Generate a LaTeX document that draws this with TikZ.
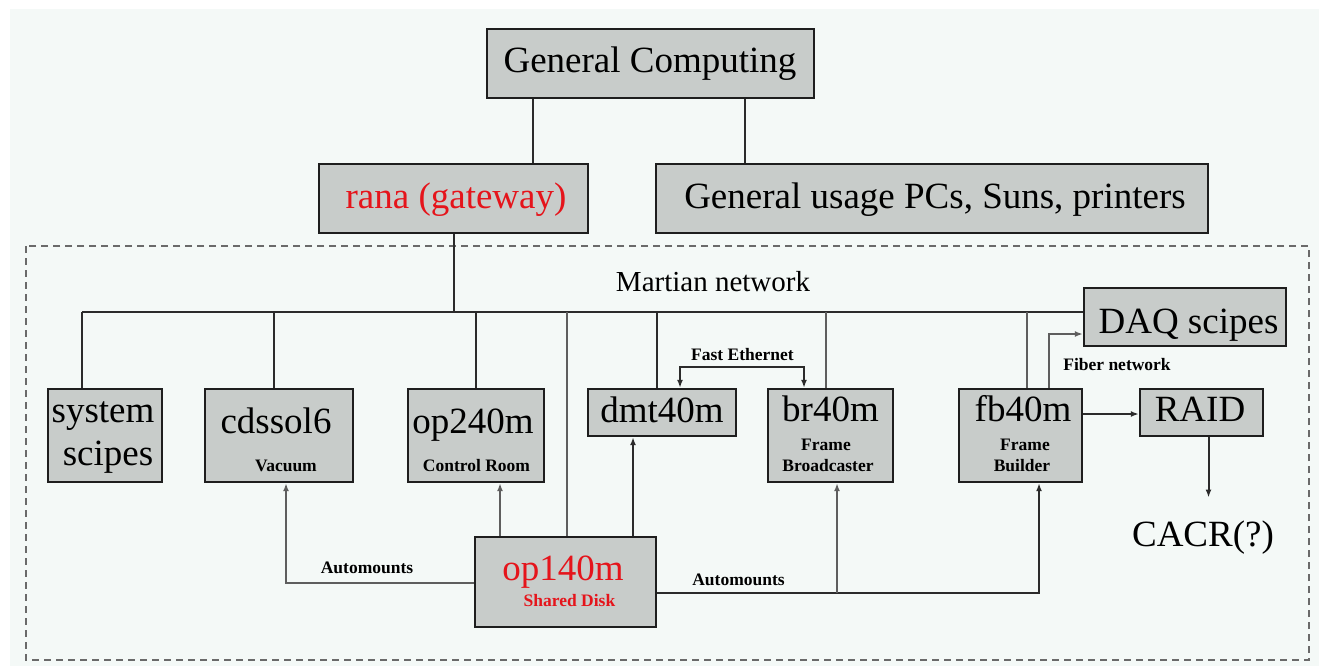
\documentclass[tikz,border=0pt]{standalone}
\usepackage{fontspec}
\setmainfont{Liberation Serif}
\usetikzlibrary{arrows.meta}
\definecolor{bgc}{HTML}{F4F9F7}
\definecolor{boxfill}{HTML}{C8CCCA}
\definecolor{boxline}{HTML}{1E1E1E}
\definecolor{busc}{HTML}{2B2B2B}
\definecolor{linkc}{HTML}{5E5E5E}
\definecolor{framec}{HTML}{6A6A6A}
\definecolor{redc}{HTML}{E5141B}
\begin{document}
\begin{tikzpicture}[x=1pt,y=-1pt,
  box/.style={draw=boxline,fill=boxfill,line width=2.4pt,inner sep=0pt},
  dims/.style 2 args={minimum width=#1pt,minimum height=#2pt},
  bigtxt/.style={font=\fontsize{37}{44}\selectfont,anchor=base,inner sep=0pt},
  smalltxt/.style={font=\bfseries\fontsize{17.5}{21}\selectfont,anchor=base,inner sep=0pt},
  midtxt/.style={font=\fontsize{29}{34}\selectfont,anchor=base,inner sep=0pt},
  bus/.style={draw=busc,line width=2pt},
  link/.style={draw=linkc,line width=2pt},
  arr/.style={-{Latex[length=8pt,width=6pt]}},
  arrs/.style={{Latex[length=8pt,width=6pt]}-{Latex[length=8pt,width=6pt]}},
  frame/.style={draw=framec,line width=2.4pt,dash pattern=on 7pt off 5pt},
]
\useasboundingbox (0,0) rectangle (1319,666);
\fill[white] (0,0) rectangle (1319,666);
\fill[bgc] (9.5,9.5) rectangle (1319,666);
\draw[frame] (26,246) rectangle (1309,660);

% boxes
\node[box,dims={327}{69}] (gc) at (650.5,63.5) {};
\node[box,dims={269}{69}] (rana) at (453.5,198.5) {};
\node[box,dims={552}{69}] (gu) at (932,198.5) {};
\node[box,dims={114}{93}] (sys) at (105,435.5) {};
\node[box,dims={148}{93}] (cds) at (279,435.5) {};
\node[box,dims={136}{93}] (op240) at (476,435.5) {};
\node[box,dims={148}{47}] (dmt) at (662,412.5) {};
\node[box,dims={125}{93}] (br) at (830.5,435.5) {};
\node[box,dims={123}{93}] (fb) at (1020.5,435.5) {};
\node[box,dims={123}{47}] (raid) at (1201.5,412.5) {};
\node[box,dims={202}{58}] (daq) at (1185,317) {};
\node[box,dims={181}{90}] (op140) at (565.5,582) {};
\node[bigtxt,anchor=center,inner ysep=21pt] (cacr) at (1203,535.5) {\phantom{CACR(?)}};

% upper links
\draw[bus] ([xshift=-117.5pt]gc.south) -- ([xshift=79.5pt]rana.north);
\draw[bus] ([xshift=94.5pt]gc.south) -- ([xshift=-187pt]gu.north);

% Martian bus
\coordinate (busL) at (82,312);
\coordinate (busR) at ([yshift=5pt]daq.west);
\draw[bus] (busL) -- (busR);
\draw[bus] (rana.south) -- (rana.south |- busL);
\draw[bus] (busL) -- (busL |- sys.north);
\draw[bus] ([xshift=-5pt]cds.north |- busL) -- ([xshift=-5pt]cds.north);
\draw[bus] (op240.north |- busL) -- (op240.north);
\draw[link] ([xshift=1.5pt]op140.north |- busL) -- ([xshift=1.5pt]op140.north);
\draw[bus] ([xshift=-5pt]dmt.north |- busL) -- ([xshift=-5pt]dmt.north);
\draw[link] ([xshift=-4.5pt]br.north |- busL) -- ([xshift=-4.5pt]br.north);
\draw[link] ([xshift=6.5pt]fb.north |- busL) -- ([xshift=6.5pt]fb.north);

% automounts
\draw[link,arr] ([yshift=-1pt]op140.west) -| ([xshift=7pt]cds.south);
\draw[link,arr] ([xshift=-65.5pt]op140.north) -- ([xshift=24pt]op240.south);
\draw[bus,arr] ([xshift=67.5pt]op140.north) -- ([xshift=-29pt]dmt.south);
\coordinate (am) at ([yshift=-11pt]op140.east);
\draw[bus,arr] (am) -| ([xshift=18.5pt]fb.south);
\draw[link,arr] ([xshift=6.5pt]br.south |- am) -- ([xshift=6.5pt]br.south);

% fast ethernet
\draw[bus,arrs] ([xshift=18pt]dmt.north) -- ++(0,-21) -| ([xshift=-26.5pt]br.north);
% fiber
\draw[link,arr] ([xshift=28.5pt]fb.north) |- ([yshift=-17pt]daq.west);
% fb -> raid
\draw[bus,arr] ([yshift=21.5pt]fb.east) -- ([yshift=21.5pt]fb.east -| raid.west);
% raid -> cacr
\draw[bus,arr] ([xshift=7pt]raid.south) -- ([xshift=7pt]raid.south |- cacr.north);

% texts
\node[bigtxt] (tgc) at (650,72.7) {General Computing};
\node[bigtxt,text=redc] (trana) at (456,208) {rana (gateway)};
\node[bigtxt] (tgu) at (935,208) {General usage PCs, Suns, printers};
\node[midtxt] (tmart) at (713,291.5) {Martian network};
\node[bigtxt] (tsys1) at (103,422.5) {system};
\node[bigtxt] (tsys2) at (108,465.5) {scipes};
\node[bigtxt] (tcds) at (276,433) {cdssol6};
\node[smalltxt] (tcds2) at (286,471.5) {Vacuum};
\node[bigtxt] (top240) at (473,433) {op240m};
\node[smalltxt] (top240b) at (476.5,471.5) {Control Room};
\node[bigtxt] (tdmt) at (662,422.5) {dmt40m};
\node[bigtxt] (tbr) at (830.5,421.7) {br40m};
\node[smalltxt] (tbr2) at (826,450.5) {Frame};
\node[smalltxt] (tbr3) at (828,471.5) {Broadcaster};
\node[bigtxt] (tfb) at (1023,421.7) {fb40m};
\node[smalltxt] (tfb2) at (1025,450.5) {Frame};
\node[smalltxt] (tfb3) at (1022,471.5) {Builder};
\node[bigtxt] (traid) at (1200,421.7) {RAID};
\node[bigtxt] (tdaq) at (1188.5,333) {DAQ scipes};
\node[bigtxt,text=redc] (top140) at (563,580) {op140m};
\node[smalltxt,text=redc] (top140b) at (569.5,606.5) {Shared Disk};
\node[bigtxt] (tcacr) at (1203,546.5) {CACR(?)};
\node[smalltxt] (tam1) at (367,573.3) {Automounts};
\node[smalltxt] (tam2) at (738.5,585) {Automounts};
\node[smalltxt] (tfe) at (742.5,360) {Fast Ethernet};
\node[smalltxt] (tfn) at (1117,370.5) {Fiber network};
\end{tikzpicture}
\end{document}
